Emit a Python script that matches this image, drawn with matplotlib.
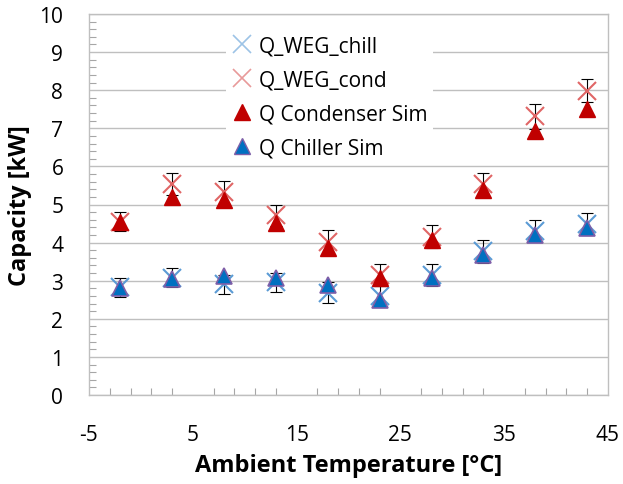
import matplotlib
matplotlib.use("Agg")
import matplotlib.pyplot as plt
from matplotlib.lines import Line2D
from matplotlib.ticker import FixedLocator, MultipleLocator

plt.rcParams['font.family'] = ['Open Sans', 'DejaVu Sans']

temps = [-2, 3, 8, 13, 18, 23, 28, 33, 38, 43]
weg_chill = [2.83, 3.08, 2.91, 2.96, 2.69, 2.60, 3.15, 3.77, 4.31, 4.49]
weg_chill_err = [0.25, 0.25, 0.25, 0.25, 0.27, 0.27, 0.28, 0.30, 0.28, 0.28]
weg_cond = [4.55, 5.54, 5.32, 4.72, 4.02, 3.15, 4.16, 5.55, 7.31, 7.99]
weg_cond_err = [0.25, 0.29, 0.30, 0.28, 0.31, 0.28, 0.31, 0.27, 0.32, 0.30]
cond_sim = [4.55, 5.20, 5.12, 4.52, 3.85, 3.07, 4.08, 5.38, 6.92, 7.50]
chill_sim = [2.80, 3.05, 3.13, 3.08, 2.88, 2.50, 3.06, 3.67, 4.19, 4.38]
x_ticks = [-5, 5, 15, 25, 35, 45]

fig = plt.figure(figsize=(6.23, 4.85), dpi=100)
ax = fig.add_axes([89/623, 1-396/485, (608-89)/623, (396-15)/485])

c_chill_x = '#5B9BD5'
c_cond_x = '#E06666'
c_red = '#C00000'
c_blue = '#0070C0'
c_purple = '#7F5FA8'

ax.errorbar(temps, weg_chill, yerr=weg_chill_err, fmt='none', ecolor='black',
            elinewidth=0.8, capsize=4, capthick=0.8, zorder=3)
ax.errorbar(temps, weg_cond, yerr=weg_cond_err, fmt='none', ecolor='black',
            elinewidth=0.8, capsize=4, capthick=0.8, zorder=3)
ax.plot(temps, weg_chill, linestyle='none', marker='x', markersize=13,
        markeredgewidth=1.5, color=c_chill_x, zorder=4)
ax.plot(temps, weg_cond, linestyle='none', marker='x', markersize=13,
        markeredgewidth=1.5, color=c_cond_x, zorder=4)
ax.plot(temps, cond_sim, linestyle='none', marker='^', markersize=11,
        color=c_red, markeredgecolor=c_red, markeredgewidth=1, zorder=5)
ax.plot(temps, chill_sim, linestyle='none', marker='^', markersize=11,
        color=c_blue, markeredgecolor=c_purple, markeredgewidth=1.2, zorder=6)

ax.set_xlim(-5, 45)
ax.set_ylim(0, 10)
ax.xaxis.set_major_locator(FixedLocator(x_ticks))
ax.xaxis.set_minor_locator(FixedLocator([v for v in range(-5, 46, 2)]))
ax.set_xticklabels([str(v) for v in x_ticks])
ax.yaxis.set_major_locator(MultipleLocator(1))
ax.yaxis.set_minor_locator(MultipleLocator(0.2))
ax.tick_params(which='both', direction='in', color='#A6A6A6', width=0.8)
ax.tick_params(which='major', length=0, labelsize=15)
ax.tick_params(which='minor', length=5)
ax.tick_params(axis='y', which='major', pad=18.5)
ax.tick_params(axis='x', which='major', pad=21)
ax.grid(True, which='major', axis='y', color='#BFBFBF', linewidth=1)
ax.set_axisbelow(True)
for s in ax.spines.values():
    s.set_color('#BFBFBF')
    s.set_linewidth(1)

ax.set_xlabel('Ambient Temperature [°C]', fontsize=17, fontweight='bold', labelpad=6)
ax.set_ylabel('Capacity [kW]', fontsize=17, fontweight='bold', labelpad=5)

handles = [
    Line2D([], [], linestyle='none', marker='x', markersize=13, markeredgewidth=1.2,
           color='#9DC3E6'),
    Line2D([], [], linestyle='none', marker='x', markersize=13, markeredgewidth=1.2,
           color='#E89A9A'),
    Line2D([], [], linestyle='none', marker='^', markersize=11, color=c_red,
           markeredgecolor=c_red),
    Line2D([], [], linestyle='none', marker='^', markersize=11, color=c_blue,
           markeredgecolor=c_purple),
]
labels = ['Q_WEG_chill', 'Q_WEG_cond', 'Q Condenser Sim', 'Q Chiller Sim']
leg = ax.legend(handles, labels, loc='upper left',
                bbox_to_anchor=((216-89)/519, (396-20)/381),
                frameon=True, fancybox=False, facecolor='white', edgecolor='none',
                framealpha=1, fontsize=15, handlelength=0.9, handletextpad=0.35,
                labelspacing=0.62, borderpad=0.3)
leg.set_zorder(10)

fig.savefig('out.png', dpi=100)
